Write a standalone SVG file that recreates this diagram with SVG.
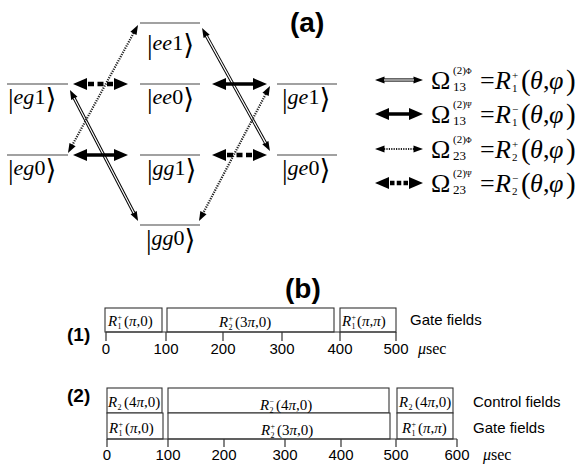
<svg xmlns="http://www.w3.org/2000/svg" width="577" height="468" viewBox="0 0 577 468">
<style>
.lvl{stroke:#444;stroke-width:1.2;fill:none}
.ket{font-family:"Liberation Serif",serif;font-size:22px;fill:#000}
.ki{font-style:italic}
.kb{font-size:28px;font-family:"Liberation Serif","DejaVu Serif",serif}
.dbl{stroke:#000;stroke-width:3.2;fill:none}
.dblin{stroke:#fff;stroke-width:1.2;fill:none}
.dot{stroke:#222;stroke-width:2.2;stroke-dasharray:1.2 1.2;fill:none}
.thk{stroke:#000;stroke-width:3.5;fill:none}
.dsh{stroke:#000;stroke-width:4.5;stroke-dasharray:6 3.5;fill:none}
.lg{font-family:"Liberation Serif",serif;font-size:26px;fill:#000}
.lp{font-family:"Liberation Serif",serif;font-size:29px;fill:#000}
.lgi{font-family:"Liberation Serif",serif;font-size:26px;font-style:italic;fill:#000}
.lsup{font-family:"Liberation Serif",serif;font-size:11px;fill:#000}
.lsub{font-family:"Liberation Serif",serif;font-size:13px;fill:#000}
.rs{font-family:"Liberation Serif",serif;font-size:11px;fill:#000}
.ttl{font-family:"Liberation Sans",Arial,sans-serif;font-weight:bold;fill:#000}
.box{fill:#fff;stroke:#333;stroke-width:1.1}
.ax{stroke:#333;stroke-width:1.2;fill:none}
.tk{font-family:"Liberation Sans",Arial,sans-serif;font-size:15px;fill:#000;text-anchor:middle}
.fl{font-family:"Liberation Sans",Arial,sans-serif;font-size:15px;fill:#000}
.us{font-family:"Liberation Serif",serif;font-size:16px;fill:#000}
.bR{font-family:"Liberation Serif",serif;font-size:15px;font-style:italic;fill:#000}
.bs{font-family:"Liberation Serif",serif;font-size:8px;fill:#000}
.bp{font-family:"Liberation Serif",serif;font-size:15px;fill:#000}
</style>
<defs>
<marker id="ms" markerUnits="userSpaceOnUse" orient="auto-start-reverse" refX="0" refY="0" markerWidth="12" markerHeight="10" overflow="visible"><path d="M-0.5,-3.5 L9,0 L-0.5,3.5 Z" fill="#000"/></marker>
<marker id="mb" markerUnits="userSpaceOnUse" orient="auto-start-reverse" refX="0" refY="0" markerWidth="16" markerHeight="14" overflow="visible"><path d="M-1,-6 L13,0 L-1,6 Z" fill="#000"/></marker>
<marker id="mbd" markerUnits="userSpaceOnUse" orient="auto-start-reverse" refX="0" refY="0" markerWidth="18" markerHeight="14" overflow="visible"><path d="M1,-6 L15,0 L1,6 Z" fill="#000"/></marker>
</defs>
<rect width="577" height="468" fill="#fff"/>

<text class="ttl" x="290" y="32" font-size="28">(a)</text>

<g id="ee1"><path class="lvl" d="M140,23 H200"/><text class="ket" x="147" y="50"><tspan class="kb" dy="4">|</tspan><tspan class="ki" dy="-4">ee</tspan>1<tspan class="kb" dy="4">⟩</tspan></text></g>
<g id="eg1"><path class="lvl" d="M7,84 H68"/><text class="ket" x="8" y="104"><tspan class="kb" dy="4">|</tspan><tspan class="ki" dy="-4">eg</tspan>1<tspan class="kb" dy="4">⟩</tspan></text></g>
<g id="ee0"><path class="lvl" d="M140,84 H200"/><text class="ket" x="147" y="104"><tspan class="kb" dy="4">|</tspan><tspan class="ki" dy="-4">ee</tspan>0<tspan class="kb" dy="4">⟩</tspan></text></g>
<g id="ge1"><path class="lvl" d="M277,84 H337"/><text class="ket" x="282" y="104"><tspan class="kb" dy="4">|</tspan><tspan class="ki" dy="-4">ge</tspan>1<tspan class="kb" dy="4">⟩</tspan></text></g>
<g id="eg0"><path class="lvl" d="M7,155 H68"/><text class="ket" x="8" y="175"><tspan class="kb" dy="4">|</tspan><tspan class="ki" dy="-4">eg</tspan>0<tspan class="kb" dy="4">⟩</tspan></text></g>
<g id="gg1"><path class="lvl" d="M140,155 H200"/><text class="ket" x="147" y="175"><tspan class="kb" dy="4">|</tspan><tspan class="ki" dy="-4">gg</tspan>1<tspan class="kb" dy="4">⟩</tspan></text></g>
<g id="ge0"><path class="lvl" d="M277,155 H337"/><text class="ket" x="282" y="175"><tspan class="kb" dy="4">|</tspan><tspan class="ki" dy="-4">ge</tspan>0<tspan class="kb" dy="4">⟩</tspan></text></g>
<g id="gg0"><path class="lvl" d="M140,225 H200"/><text class="ket" x="146" y="245"><tspan class="kb" dy="4">|</tspan><tspan class="ki" dy="-4">gg</tspan>0<tspan class="kb" dy="4">⟩</tspan></text></g>

<g id="connectors">
<path class="dbl" d="M206.4,35.9 L265.6,143.1" marker-start="url(#ms)" marker-end="url(#ms)"/>
<path class="dblin" d="M206.4,35.9 L265.6,143.1"/>
<path class="dbl" d="M74.1,98 L133.9,213" marker-start="url(#ms)" marker-end="url(#ms)"/>
<path class="dblin" d="M74.1,98 L133.9,213"/>
<path class="dot" d="M133.7,32.9 L72.3,145.1" marker-start="url(#ms)" marker-end="url(#ms)"/>
<path class="dot" d="M265.8,94 L203.2,213" marker-start="url(#ms)" marker-end="url(#ms)"/>
<path class="dsh" d="M88,84 H113" marker-start="url(#mbd)" marker-end="url(#mbd)"/>
<path class="thk" d="M86,155 H115" marker-start="url(#mb)" marker-end="url(#mb)"/>
<path class="thk" d="M225,84 H254" marker-start="url(#mb)" marker-end="url(#mb)"/>
<path class="dsh" d="M227,155 H252" marker-start="url(#mbd)" marker-end="url(#mbd)"/>
</g>

<g id="legend">
<path class="dbl" d="M384,80 H414" marker-start="url(#ms)" marker-end="url(#ms)"/>
<path class="dblin" d="M384,80 H414"/>
<text class="lg" x="431" y="89">Ω</text><text class="lsup" x="453" y="74">(2)<tspan font-size="8">Φ</tspan></text><text class="lsub" x="453" y="91">13</text>
<text class="lg" x="480" y="89">=</text><text class="lgi" x="495" y="89">R</text><text class="rs" x="512" y="92">1</text><text class="rs" x="512" y="79">+</text>
<text class="lp" x="521" y="90">(</text><text class="lgi" x="530" y="89">θ</text><text class="lg" x="543" y="89">,</text><text class="lgi" x="549" y="89">φ</text><text class="lp" x="566" y="90">)</text>

<path class="thk" d="M388,114 H410" marker-start="url(#mb)" marker-end="url(#mb)"/>
<text class="lg" x="431" y="123">Ω</text><text class="lsup" x="453" y="108">(2)<tspan font-size="8">Ψ</tspan></text><text class="lsub" x="453" y="125">13</text>
<text class="lg" x="480" y="123">=</text><text class="lgi" x="495" y="123">R</text><text class="rs" x="512" y="126">1</text><text class="rs" x="512" y="113">−</text>
<text class="lp" x="521" y="124">(</text><text class="lgi" x="530" y="123">θ</text><text class="lg" x="543" y="123">,</text><text class="lgi" x="549" y="123">φ</text><text class="lp" x="566" y="124">)</text>

<path class="dot" d="M384,149 H414" marker-start="url(#ms)" marker-end="url(#ms)"/>
<text class="lg" x="431" y="158">Ω</text><text class="lsup" x="453" y="143">(2)<tspan font-size="8">Φ</tspan></text><text class="lsub" x="453" y="160">23</text>
<text class="lg" x="480" y="158">=</text><text class="lgi" x="495" y="158">R</text><text class="rs" x="512" y="161">2</text><text class="rs" x="512" y="148">+</text>
<text class="lp" x="521" y="159">(</text><text class="lgi" x="530" y="158">θ</text><text class="lg" x="543" y="158">,</text><text class="lgi" x="549" y="158">φ</text><text class="lp" x="566" y="159">)</text>

<path class="dsh" d="M390,183 H408" style="stroke-dasharray:4.5 2.25" marker-start="url(#mbd)" marker-end="url(#mbd)"/>
<text class="lg" x="431" y="192">Ω</text><text class="lsup" x="453" y="177">(2)<tspan font-size="8">Ψ</tspan></text><text class="lsub" x="453" y="194">23</text>
<text class="lg" x="480" y="192">=</text><text class="lgi" x="495" y="192">R</text><text class="rs" x="512" y="195">2</text><text class="rs" x="512" y="182">−</text>
<text class="lp" x="521" y="193">(</text><text class="lgi" x="530" y="192">θ</text><text class="lg" x="543" y="192">,</text><text class="lgi" x="549" y="192">φ</text><text class="lp" x="566" y="193">)</text>
</g>

<text class="ttl" x="285" y="298" font-size="28">(b)</text>

<g id="timeline1">
<text class="ttl" x="67" y="341" font-size="19">(1)</text>
<rect class="box" x="105" y="308" width="57" height="24"/>
<rect class="box" x="167" y="308" width="167" height="24"/>
<rect class="box" x="340" y="308" width="56" height="24"/>
<text class="bR" x="108" y="326">R</text><text class="bs" x="117.5" y="329">1</text><text class="bs" x="117.5" y="320">+</text><text class="bp" x="124" y="326">(<tspan class="ki">π</tspan>,0)</text>
<text class="bR" x="219" y="327">R</text><text class="bs" x="228.5" y="330">2</text><text class="bs" x="228.5" y="321">+</text><text class="bp" x="235" y="327">(3<tspan class="ki">π</tspan>,0)</text>
<text class="bR" x="342" y="326">R</text><text class="bs" x="351.5" y="329">1</text><text class="bs" x="351.5" y="320">+</text><text class="bp" x="357" y="326">(<tspan class="ki">π</tspan>,<tspan class="ki">π</tspan>)</text>
<text class="fl" x="410" y="325">Gate fields</text>
<path class="ax" d="M106,332 H396 M106,332 V341 M166,332 V341 M223,332 V341 M282,332 V341 M340,332 V341 M396,332 V341"/>
<text class="tk" x="106" y="354">0</text><text class="tk" x="166" y="354">100</text><text class="tk" x="223" y="354">200</text><text class="tk" x="282" y="354">300</text><text class="tk" x="340" y="354">400</text><text class="tk" x="396" y="354">500</text>
<text class="us" x="418" y="354"><tspan class="ki">μ</tspan>sec</text>
</g>

<g id="timeline2">
<text class="ttl" x="67" y="402" font-size="19">(2)</text>
<rect class="box" x="107" y="388" width="55" height="25"/>
<rect class="box" x="168" y="388" width="221" height="25"/>
<rect class="box" x="397" y="388" width="56" height="25"/>
<rect class="box" x="107" y="413" width="56" height="26"/>
<rect class="box" x="168" y="413" width="222" height="26"/>
<rect class="box" x="397" y="413" width="56" height="26"/>
<text class="bR" x="108" y="407">R</text><text class="bs" x="117.5" y="410">2</text><text class="bp" x="124" y="407">(4<tspan class="ki">π</tspan>,0)</text>
<text class="bR" x="260" y="410">R</text><text class="bs" x="269.5" y="413">2</text><text class="bs" x="269.5" y="404">−</text><text class="bp" x="276" y="410">(4<tspan class="ki">π</tspan>,0)</text>
<text class="bR" x="399" y="407">R</text><text class="bs" x="408.5" y="410">2</text><text class="bp" x="415" y="407">(4<tspan class="ki">π</tspan>,0)</text>
<text class="bR" x="109" y="433">R</text><text class="bs" x="118.5" y="436">1</text><text class="bs" x="118.5" y="427">+</text><text class="bp" x="125" y="433">(<tspan class="ki">π</tspan>,0)</text>
<text class="bR" x="261" y="435">R</text><text class="bs" x="270.5" y="438">2</text><text class="bs" x="270.5" y="429">+</text><text class="bp" x="277" y="435">(3<tspan class="ki">π</tspan>,0)</text>
<text class="bR" x="402" y="433">R</text><text class="bs" x="411.5" y="436">1</text><text class="bs" x="411.5" y="427">+</text><text class="bp" x="418" y="433">(<tspan class="ki">π</tspan>,<tspan class="ki">π</tspan>)</text>
<text class="fl" x="473" y="407">Control fields</text>
<text class="fl" x="473" y="433">Gate fields</text>
<path class="ax" d="M107,439 H457 M107,439 V447 M168,439 V447 M224,439 V447 M285,439 V447 M341,439 V447 M396,439 V447 M457,439 V447"/>
<text class="tk" x="107" y="460">0</text><text class="tk" x="168" y="460">100</text><text class="tk" x="224" y="460">200</text><text class="tk" x="285" y="460">300</text><text class="tk" x="341" y="460">400</text><text class="tk" x="396" y="460">500</text><text class="tk" x="457" y="460">600</text>
<text class="us" x="483" y="460"><tspan class="ki">μ</tspan>sec</text>
</g>
</svg>
